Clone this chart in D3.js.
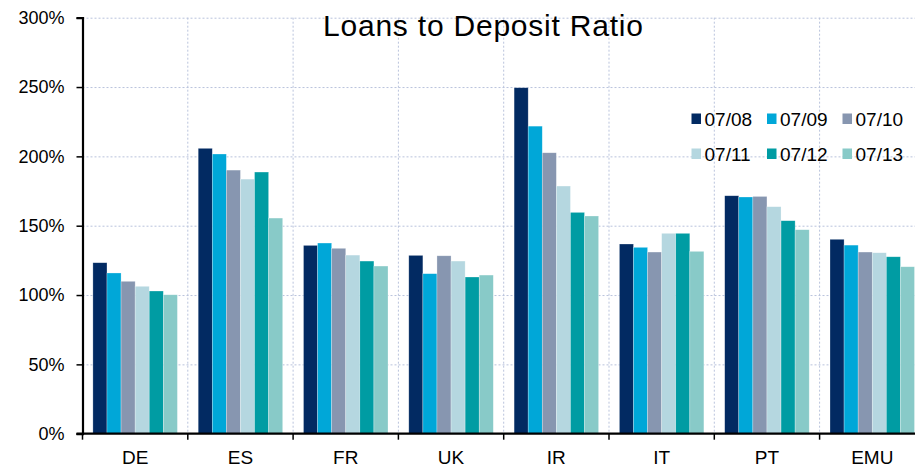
<!DOCTYPE html>
<html>
  <head>
    <meta charset="UTF-8" />
    <style>
      body {
        margin: 0;
        background-color: #ffffff;
      }
      svg {
        display: block;
        font-family: Arial, "Liberation Sans", sans-serif;
      }
      .grid line {
        stroke: #b9c3dc;
        stroke-dasharray: 2, 2;
        stroke-width: 1;
      }
      .grid path {
        display: none;
      }
    </style>
  </head>

  <body>
    <svg id="chart" width="915" height="468"></svg>

    <script src="https://d3js.org/d3.v7.min.js"></script>
    <script>
      // chart data
      const countries = ["DE", "ES", "FR", "UK", "IR", "IT", "PT", "EMU"];
      const periods = ["07/08", "07/09", "07/10", "07/11", "07/12", "07/13"];
      const colors = ["#022a62", "#00a7d8", "#8796b0", "#b5d7e0", "#009ca3", "#88cac8"];
      const v0708 = [123.3, 205.8, 135.8, 128.6, 249.5, 136.8, 171.6, 140.2];
      const v0709 = [115.9, 201.7, 137.5, 115.4, 221.8, 134.4, 170.7, 136.0];
      const v0710 = [109.9, 190.1, 133.7, 128.3, 202.6, 131.0, 171.1, 131.0];
      const v0711 = [106.3, 183.6, 128.8, 124.5, 178.6, 144.5, 163.7, 130.5];
      const v0712 = [102.9, 188.7, 124.5, 113.0, 159.6, 144.5, 153.6, 127.6];
      const v0713 = [100.2, 155.5, 120.9, 114.4, 157.0, 131.5, 147.1, 120.4];
      const yTicks = [0, 50, 100, 150, 200, 250, 300];
      const title = "Loans to Deposit Ratio";

      const seriesValues = [v0708, v0709, v0710, v0711, v0712, v0713];

      const plotLeft = 82.5;
      const step = 105.3;
      const plotTop = 17.7;
      const plotBottom = 433.7;

      const svg = d3.select("#chart");

      const xScale = d3
        .scaleBand()
        .domain(countries)
        .range([plotLeft, plotLeft + step * countries.length])
        .padding(0);

      const groupPad = 10.4;
      const xInner = d3
        .scaleBand()
        .domain(periods)
        .range([groupPad, step - groupPad])
        .padding(0);

      const yScale = d3.scaleLinear().domain([0, 300]).range([plotBottom, plotTop]);

      // horizontal grid
      svg
        .append("g")
        .attr("class", "grid")
        .attr("transform", `translate(${plotLeft}, 0)`)
        .call(
          d3
            .axisRight(yScale)
            .tickValues(yTicks.filter((t) => t > 0))
            .tickSize(915 - plotLeft)
            .tickFormat("")
        );

      // vertical grid at category boundaries
      svg
        .append("g")
        .attr("class", "grid")
        .selectAll("line")
        .data(countries.slice(1))
        .enter()
        .append("line")
        .attr("x1", (c) => xScale(c))
        .attr("x2", (c) => xScale(c))
        .attr("y1", plotTop)
        .attr("y2", plotBottom);

      // bars
      const groups = svg
        .append("g")
        .selectAll("g")
        .data(countries)
        .enter()
        .append("g")
        .attr("transform", (c) => `translate(${xScale(c)}, 0)`);

      groups
        .selectAll("rect")
        .data((c, ci) =>
          periods.map((p, pi) => ({ period: p, idx: pi, value: seriesValues[pi][ci] }))
        )
        .enter()
        .append("rect")
        .attr("x", (d) => xInner(d.period))
        .attr("y", (d) => yScale(d.value))
        .attr("width", xInner.bandwidth())
        .attr("height", (d) => plotBottom - yScale(d.value))
        .attr("fill", (d) => colors[d.idx])
        .attr("stroke", "#ffffff")
        .attr("stroke-opacity", 0.45)
        .attr("stroke-width", 0.6);

      // y axis
      const yAxis = svg
        .append("g")
        .attr("transform", `translate(${plotLeft}, 0)`)
        .call(
          d3
            .axisLeft(yScale)
            .tickValues(yTicks)
            .tickSize(6)
            .tickPadding(12)
            .tickFormat((d) => d + "%")
        );
      yAxis.select(".domain").attr("stroke", "#000").attr("stroke-width", 2.2);
      yAxis.selectAll(".tick line").attr("stroke", "#000").attr("stroke-width", 1.5);
      yAxis
        .selectAll(".tick text")
        .attr("font-size", 18)
        .attr("font-family", "Arial, 'Liberation Sans', sans-serif")
        .attr("fill", "#000");

      // x axis: baseline, boundary ticks, labels
      svg
        .append("line")
        .attr("x1", plotLeft - 6)
        .attr("x2", 915)
        .attr("y1", plotBottom)
        .attr("y2", plotBottom)
        .attr("stroke", "#000")
        .attr("stroke-width", 2.2);

      svg
        .append("g")
        .selectAll("line")
        .data(countries)
        .enter()
        .append("line")
        .attr("x1", (c) => xScale(c))
        .attr("x2", (c) => xScale(c))
        .attr("y1", plotBottom)
        .attr("y2", plotBottom + 6)
        .attr("stroke", "#000")
        .attr("stroke-width", 1.5);

      svg
        .append("g")
        .selectAll("text")
        .data(countries)
        .enter()
        .append("text")
        .attr("x", (c) => xScale(c) + step / 2)
        .attr("y", 464)
        .attr("text-anchor", "middle")
        .attr("font-size", 19)
        .attr("fill", "#000")
        .text((c) => c);

      // title
      svg
        .append("text")
        .attr("x", 483)
        .attr("y", 35.5)
        .attr("text-anchor", "middle")
        .attr("font-size", 30)
        .attr("textLength", 320)
        .attr("fill", "#000")
        .text(title);

      // legend
      const legend = svg
        .append("g")
        .selectAll("g")
        .data(periods)
        .enter()
        .append("g")
        .attr(
          "transform",
          (p, i) => `translate(${691.5 + (i % 3) * 75.5}, ${i < 3 ? 126 : 161})`
        );

      legend
        .append("rect")
        .attr("x", 0)
        .attr("y", -12.5)
        .attr("width", 9.5)
        .attr("height", 10.5)
        .attr("fill", (p, i) => colors[i]);

      legend
        .append("text")
        .attr("x", 13)
        .attr("y", 0)
        .attr("font-size", 19)
        .attr("fill", "#000")
        .text((p) => p);
    </script>
  </body>
</html>
